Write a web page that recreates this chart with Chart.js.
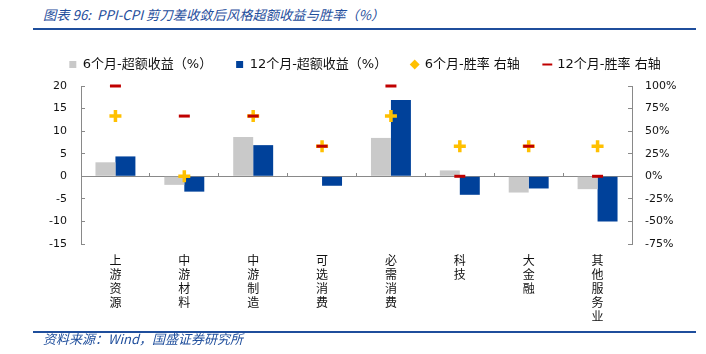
<!DOCTYPE html>
<html>
<head>
<meta charset="utf-8">
<script src="https://cdn.jsdelivr.net/npm/chart.js@4"></script>
<style>
  html, body { margin: 0; padding: 0; background: #fff; }
  #wrap { position: relative; width: 706px; height: 354px; overflow: hidden; }
  #myChart1 { position: absolute; left: 0; top: 0; }
  .title { position: absolute; left: 43px; top: 5px; font: italic 13.3px "Noto Sans CJK SC", "DejaVu Sans", sans-serif; color: #1f4e9c; white-space: nowrap; }
  .rule { position: absolute; left: 33px; width: 663px; background: #1f4e9c; }
  .source { position: absolute; left: 43px; top: 329px; font: italic 13px "Noto Sans CJK SC", "DejaVu Sans", sans-serif; color: #1f4e9c; white-space: nowrap; }
</style>
</head>
<body>
<div id="wrap">
  <div class="title">图表 96:&nbsp; PPI-CPI 剪刀差收敛后风格超额收益与胜率（%）</div>
  <div class="rule" style="top:28px;height:2px;"></div>
  <canvas id="myChart1" width="706" height="354"></canvas>
  <div class="rule" style="top:331px;height:1.5px;"></div>
  <div class="source">资料来源：Wind，国盛证券研究所</div>
</div>
<script>
'use strict';

// categories (vertical labels -> one char per line)
var categories = ['上游资源', '中游材料', '中游制造', '可选消费', '必需消费', '科技', '大金融', '其他服务业'];
// 超额收益 (%), left axis
var excess6 = [3.1, -1.9, 8.7, 0.1, 8.5, 1.3, -3.6, -2.85];
var excess12 = [4.4, -3.4, 6.9, -2.1, 16.9, -4.1, -2.7, -10.0];
// 胜率 (%), right axis
var win6 = [66.7, 0, 66.7, 33.3, 66.7, 33.3, 33.3, 33.3];
var win12 = [100, 66.7, 66.7, 33.3, 100, 0, 33.3, 0];
var seriesNames = ['6个月-超额收益（%）', '12个月-超额收益（%）', '6个月-胜率 右轴', '12个月-胜率 右轴'];

var labels = categories.map(function (c) { return c.split(''); });
var legendStyles = ['rect', 'rect', 'rectRot', 'line'];

var axisColor = '#898989';
var tickFont = { family: "'DejaVu Sans', sans-serif", size: 11 };

var ctx = document.getElementById('myChart1').getContext('2d');

// a bit more room between legend and plot
var legendGap = {
  id: 'legendGap',
  afterInit: function (chart) {
    var lg = chart.legend;
    if (!lg) return;
    var fit = lg.fit;
    lg.fit = function () {
      fit.call(this);
      this.height += 5;
    };
  }
};

var myChart = new Chart(ctx, {
  type: 'bar',
  data: {
    labels: labels,
    datasets: [{
      label: seriesNames[0],
      data: excess6,
      backgroundColor: '#c9c9c9',
      xAxisID: 'x',
      yAxisID: 'y',
      categoryPercentage: 0.58,
      barPercentage: 1,
      order: 2
    }, {
      label: seriesNames[1],
      data: excess12,
      backgroundColor: '#00419a',
      xAxisID: 'x',
      yAxisID: 'y',
      categoryPercentage: 0.58,
      barPercentage: 1,
      order: 2
    }, {
      type: 'line',
      label: seriesNames[2],
      data: win6,
      showLine: false,
      pointStyle: 'cross',
      pointRadius: 6,
      pointBorderWidth: 3.5,
      borderColor: '#ffc000',
      backgroundColor: '#ffc000',
      xAxisID: 'x',
      yAxisID: 'y1',
      clip: false,
      order: 1
    }, {
      type: 'line',
      label: seriesNames[3],
      data: win12,
      showLine: false,
      pointStyle: 'line',
      pointRadius: 5.5,
      pointBorderWidth: 3,
      borderColor: '#c00000',
      backgroundColor: '#c00000',
      xAxisID: 'x',
      yAxisID: 'y1',
      clip: false,
      order: 0
    }]
  },
  options: {
    responsive: false,
    animation: false,
    layout: {
      padding: { left: 24, right: 0, top: 34, bottom: 22 }
    },
    plugins: {
      tooltip: { enabled: false },
      legend: {
        position: 'top',
        align: 'center',
        labels: {
          usePointStyle: true,
          boxWidth: 7,
          boxHeight: 7,
          padding: 24,
          color: '#111',
          font: { family: "'DejaVu Sans', 'Noto Sans CJK SC', sans-serif", size: 13 },
          sort: function (a, b) { return a.datasetIndex - b.datasetIndex; },
          generateLabels: function (chart) {
            var items = Chart.defaults.plugins.legend.labels.generateLabels(chart);
            items.forEach(function (it) {
              it.pointStyle = legendStyles[it.datasetIndex];
              it.lineWidth = it.datasetIndex === 3 ? 2 : 0;
              it.strokeStyle = it.fillStyle;
            });
            return items;
          }
        }
      }
    },
    scales: {
      x: {
        position: { y: 0 },
        offset: true,
        afterFit: function (scale) { scale.height = 0; },
        grid: {
          offset: true,
          drawOnChartArea: false,
          drawTicks: true,
          tickLength: -4,
          color: axisColor
        },
        border: { display: true, color: axisColor, width: 1 },
        ticks: { display: false }
      },
      x2: {
        type: 'category',
        position: 'bottom',
        offset: true,
        grid: { display: false, drawTicks: false },
        border: { display: false },
        ticks: {
          autoSkip: false,
          maxRotation: 0,
          padding: 9,
          color: '#111',
          font: { family: "'Noto Sans CJK SC', sans-serif", size: 12, lineHeight: '14px' }
        }
      },
      y: {
        position: 'left',
        min: -15,
        max: 20,
        afterFit: function (scale) { scale.width = 57; },
        grid: {
          drawOnChartArea: false,
          drawTicks: true,
          tickLength: -4,
          color: axisColor
        },
        border: { display: true, color: axisColor },
        ticks: {
          stepSize: 5,
          padding: 18,
          color: '#111',
          font: tickFont
        }
      },
      y1: {
        position: 'right',
        min: -75,
        max: 100,
        afterFit: function (scale) { scale.width = 74; },
        grid: {
          drawOnChartArea: false,
          drawTicks: true,
          tickLength: -4,
          color: axisColor
        },
        border: { display: true, color: axisColor },
        ticks: {
          stepSize: 25,
          padding: 17,
          color: '#111',
          font: tickFont,
          callback: function (value) { return value + '%'; }
        }
      }
    }
  },
  plugins: [legendGap]
});
</script>
</body>
</html>
